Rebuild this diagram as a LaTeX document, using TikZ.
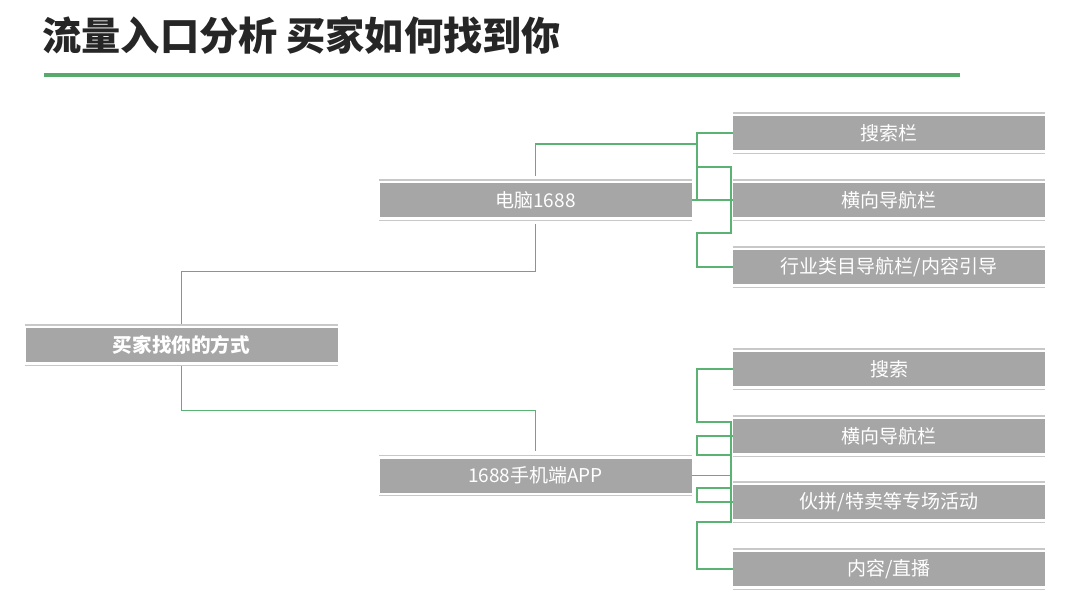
\documentclass[tikz,border=0pt]{standalone}
\usepackage{fontspec}
\setmainfont{Noto Sans CJK SC}
\definecolor{boxgray}{RGB}{166,166,166}
\definecolor{rimgray}{RGB}{200,200,200}
\definecolor{linkgreen}{RGB}{90,178,115}
\definecolor{bargreen}{RGB}{88,170,108}
\definecolor{titleblack}{RGB}{38,38,38}
\tikzset{
  item/.style={fill=boxgray,text=white,minimum width=156pt,minimum height=17pt,inner sep=0pt,font=\fontsize{9.5}{11}\selectfont},
  rim/.style={rimgray,line width=0.7pt},
  link/.style={linkgreen,line width=0.6pt}
}

\begin{document}
\begin{tikzpicture}[x=0.5pt,y=-0.5pt]
\useasboundingbox (0,0) rectangle (1080,599);
\node[anchor=west,inner sep=0pt,font=\fontsize{19.6}{22}\selectfont\bfseries,text=titleblack] (title) at (42,35) {流量入口分析 买家如何找到你};
\draw[bargreen,line width=2pt] (44,75) -- (960,75);

\node[item,font=\fontsize{9.8}{11}\selectfont\bfseries] (root) at (181.5,345) {买家找你的方式};
\node[item] (pc) at (535.5,200) {电脑1688};
\node[item] (app) at (535.5,475.5) {1688手机端APP};
\node[item] (pc1) at (889,133) {搜索栏};
\node[item] (pc2) at (889,200) {横向导航栏};
\node[item] (pc3) at (889,267) {行业类目导航栏/内容引导};
\node[item] (app1) at (889,369) {搜索};
\node[item] (app2) at (889,436) {横向导航栏};
\node[item] (app3) at (889,502) {伙拼/特卖等专场活动};
\node[item] (app4) at (889,569) {内容/直播};
\foreach \n in {root,pc,app,pc1,pc2,pc3,app1,app2,app3,app4}{
  \draw[rim] ([yshift=1.4pt]\n.north west) -- ([yshift=1.4pt]\n.north east);
  \draw[rim] ([yshift=-1.4pt]\n.south west) -- ([yshift=-1.4pt]\n.south east);
}

% root to the two sources
\draw[link,shorten <=2pt,shorten >=3.5pt] (root.north) -- ++(0,-56) -| (pc.south);
\draw[link,shorten <=2pt,shorten >=3.5pt] (root.south) -- ++(0,48) -| (app.north);

% 电脑1688
\coordinate (pcj) at (697,144);
\coordinate (pcm) at (697,200);
\coordinate (pcd1) at (697,167);
\coordinate (pcd2) at (731,233);
\draw[link,shorten <=3.5pt] (pc.north) |- (pcj);
\draw[link] (pc1.west) -| (pcm);
\draw[link] (pc.east) -- (pc2.west);
\draw[link] (pcd1) -| (pcd2) -- (pcd1 |- pcd2) |- (pc3.west);

% 手机端
\coordinate (ab1) at (697,422);
\coordinate (ab2) at (731,522);
\coordinate (ac1) at (697,455);
\coordinate (ad1) at (731,488);
\draw[link] (app1.west) -| (ab1) -| (ab2) -- (ab1 |- ab2) |- (app4.west);
\draw[link] (app2.west) -| (ac1) -- (ac1 -| ab2);
\draw[link] (app.east) -- (app.east -| ab2);
\draw[link] (ad1) -- (ad1 -| ab1) |- (app3.west);
\end{tikzpicture}
\end{document}
